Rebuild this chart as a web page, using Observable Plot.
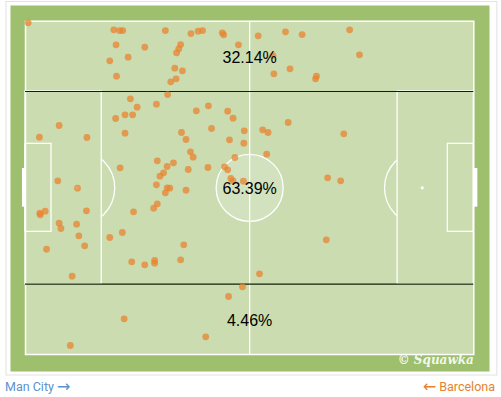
<!DOCTYPE html>
<html>
<head>
<meta charset="utf-8">
<script src="https://cdn.jsdelivr.net/npm/d3@7"></script>
<script src="https://cdn.jsdelivr.net/npm/@observablehq/plot@0.6"></script>
<style>
  html, body { margin: 0; padding: 0; background: #fff; }
  #wrap { position: relative; width: 501px; height: 397px; overflow: hidden; }
  #footer { position: absolute; left: 0; top: 377px; width: 501px; height: 20px;
            font-family: Roboto, "Liberation Sans", Arial, sans-serif; font-size: 12.5px; }
  #footer > span { position: absolute; top: 2px; white-space: nowrap; line-height: 16px; }
  #footer .arr { font-family: "DejaVu Sans", sans-serif; font-size: 16px; vertical-align: -1px; }
  #home { left: 5px; color: #5b93cc; }
  #away { right: 6px; color: #e5832f; }
</style>
</head>
<body>
<div id="wrap">
  <div id="chart"></div>
  <div id="footer"><span id="home"></span><span id="away"></span></div>
</div>
<script>
// ---- data (pitch units: x 0-100 along length, y 0-100 across, top = 0) ----
const passX = [0.6,19.7,21.0,21.7,31.2,36.9,38.5,39.5,43.9,44.2,51.9,58.0,61.7,72.3,20.2,26.6,34.6,34.2,33.7,47.5,
  55.2,74.5,22.9,18.8,33.3,35.0,55.4,59.0,64.9,64.7,20.3,33.6,32.4,
  31.7,23.4,29.2,24.9,38.1,40.8,45.1,46.3,20.1,22.2,23.9,7.5,58.6,3.1,13.7,22.2,34.8,35.8,41.5,48.8,48.7,45.5,
  52.9,54.1,71.0,36.8,37.4,46.7,53.8,29.4,33.0,31.6,30.8,30.0,21.1,36.3,40.7,44.4,45.1,45.8,46.3,48.6,7.2,11.6,
  29.2,31.6,32.2,31.2,35.8,67.4,70.3,29.4,28.6,13.6,24.1,3.3,4.4,3.2,7.5,7.9,11.4,11.9,21.6,18.8,35.3,13.2,4.7,
  67.1,23.7,26.6,28.8,28.8,34.6,10.4,52.2,
  48.4,45.3,22.0,40.2,10.0];
const passY = [0.5,2.6,2.8,2.8,2.8,3.7,3.0,2.8,3.5,4.1,4.4,3.2,4.0,2.6,7.1,7.8,7.0,8.3,9.5,7.1,
  10.3,10.1,10.8,11.9,14.1,14.9,15.8,14.3,16.5,17.3,16.5,17.3,18.2,
  22.0,23.3,24.9,25.8,26.9,25.4,27.0,29.1,29.2,28.1,28.1,31.3,30.4,34.8,34.9,33.6,33.4,35.5,32.2,32.9,36.6,35.6,
  32.6,33.4,33.8,39.2,40.8,40.9,39.9,41.9,42.5,43.6,45.5,46.5,44.0,44.5,43.9,43.7,44.6,47.2,47.9,48.0,47.9,50.1,
  49.1,50.0,50.1,51.5,50.7,47.0,47.9,54.8,56.1,56.9,57.2,58.1,57.0,57.6,60.6,62.2,60.9,64.4,63.4,64.9,67.1,67.4,68.4,
  65.6,72.2,73.1,71.8,72.6,71.6,76.5,75.8,
  79.7,82.6,89.3,94.7,97.3];
const zoneBounds = [0, 21.1, 78.9, 100];
const zoneLabels = ["32.14%", "63.39%", "4.46%"];
const teams = ["Man City", "Barcelona"];
const credit = "\u00A9 Squawka";

// ---- pitch geometry (pitch units) ----
const penaltyBoxes = [{x1: 0, x2: 17}, {x1: 83, x2: 100}];
const penaltyBoxY = [21.1, 78.9];
const sixYardBoxes = [{x1: 0, x2: 5.8}, {x1: 94.2, x2: 100}];
const sixYardY = [36.8, 63.2];
const goalPosts = [44.2, 55.8];
const penaltySpots = [11.5, 88.5];

const passes = passX.map((x, i) => ({x, y: passY[i]}));
const zones = zoneLabels.map((t, i) => ({text: t, y: (zoneBounds[i] + zoneBounds[i + 1]) / 2}));

const PITCH = "#cadcb0", FRAME = "#9dbf6e", LINE = "#ffffff";

const chart = Plot.plot({
  width: 501,
  height: 377,
  marginLeft: 25,
  marginRight: 27.7,
  marginTop: 20.7,
  marginBottom: 23,
  x: {domain: [0, 100], axis: null},
  y: {domain: [0, 100], reverse: true, axis: null},
  style: {background: "transparent", fontFamily: "'Liberation Sans', Arial, sans-serif", overflow: "visible"},
  marks: [
    // card and green surround
    Plot.frame({fill: "#ffffff", stroke: "#e2e2e2", strokeWidth: 1,
      insetLeft: -19.5, insetRight: -23, insetTop: -19.7, insetBottom: -20.5}),
    Plot.frame({fill: FRAME, insetLeft: -15, insetRight: -15.7, insetTop: -15.7, insetBottom: -17}),
    // pitch surface
    Plot.frame({fill: PITCH}),
    // penalty arcs (covered inside by the boxes)
    Plot.dot(penaltySpots, {x: d => d, y: () => 50, r: 37.7, stroke: LINE, strokeWidth: 1.3, fill: "none"}),
    Plot.rect(penaltyBoxes, {x1: "x1", x2: "x2", y1: () => penaltyBoxY[0], y2: () => penaltyBoxY[1],
      fill: PITCH, stroke: LINE, strokeWidth: 1.3}),
    Plot.rect(sixYardBoxes, {x1: "x1", x2: "x2", y1: () => sixYardY[0], y2: () => sixYardY[1],
      fill: "none", stroke: LINE, strokeWidth: 1.3}),
    // halfway line and centre circle
    Plot.ruleX([50], {y1: 0, y2: 100, stroke: LINE, strokeWidth: 1.3}),
    Plot.dot([50], {x: d => d, y: () => 50, r: 33.5, stroke: LINE, strokeWidth: 1.3, fill: "#ffffff", fillOpacity: 0.18}),
    Plot.dot(penaltySpots, {x: d => d, y: () => 50, r: 1.6, fill: LINE}),
    // touchlines
    Plot.frame({stroke: LINE, strokeWidth: 1.5}),
    // goals
    Plot.ruleX([0], {y1: goalPosts[0], y2: goalPosts[1], stroke: LINE, strokeWidth: 3.5, dx: -1.8}),
    Plot.ruleX([100], {y1: goalPosts[0], y2: goalPosts[1], stroke: LINE, strokeWidth: 3.5, dx: 1.8}),
    // zone divider lines
    Plot.ruleY(zoneBounds.slice(1, -1), {x1: 0, x2: 100, stroke: "#132009", strokeWidth: 1.1}),
    // passes
    Plot.dot(passes, {x: "x", y: "y", r: 3.4, fill: "#e8842f", fillOpacity: 0.75}),
    // zone percentages
    Plot.text(zones, {x: () => 50, y: "y", text: "text", fontSize: 16, fill: "#000", dy: 1.5}),
    // watermark
    Plot.text([credit], {frameAnchor: "bottom-right", text: d => d, dy: 9.5, dx: 0, textAnchor: "end",
      fill: "#ffffff", fillOpacity: 0.9, fontSize: 12, fontStyle: "italic", fontWeight: "bold",
      fontFamily: "'DejaVu Serif', Georgia, serif"})
  ]
});
document.getElementById("chart").appendChild(chart);
document.getElementById("home").innerHTML = teams[0] + " <span class='arr'>\u2192</span>";
document.getElementById("away").innerHTML = "<span class='arr'>\u2190</span> " + teams[1];
</script>
</body>
</html>
